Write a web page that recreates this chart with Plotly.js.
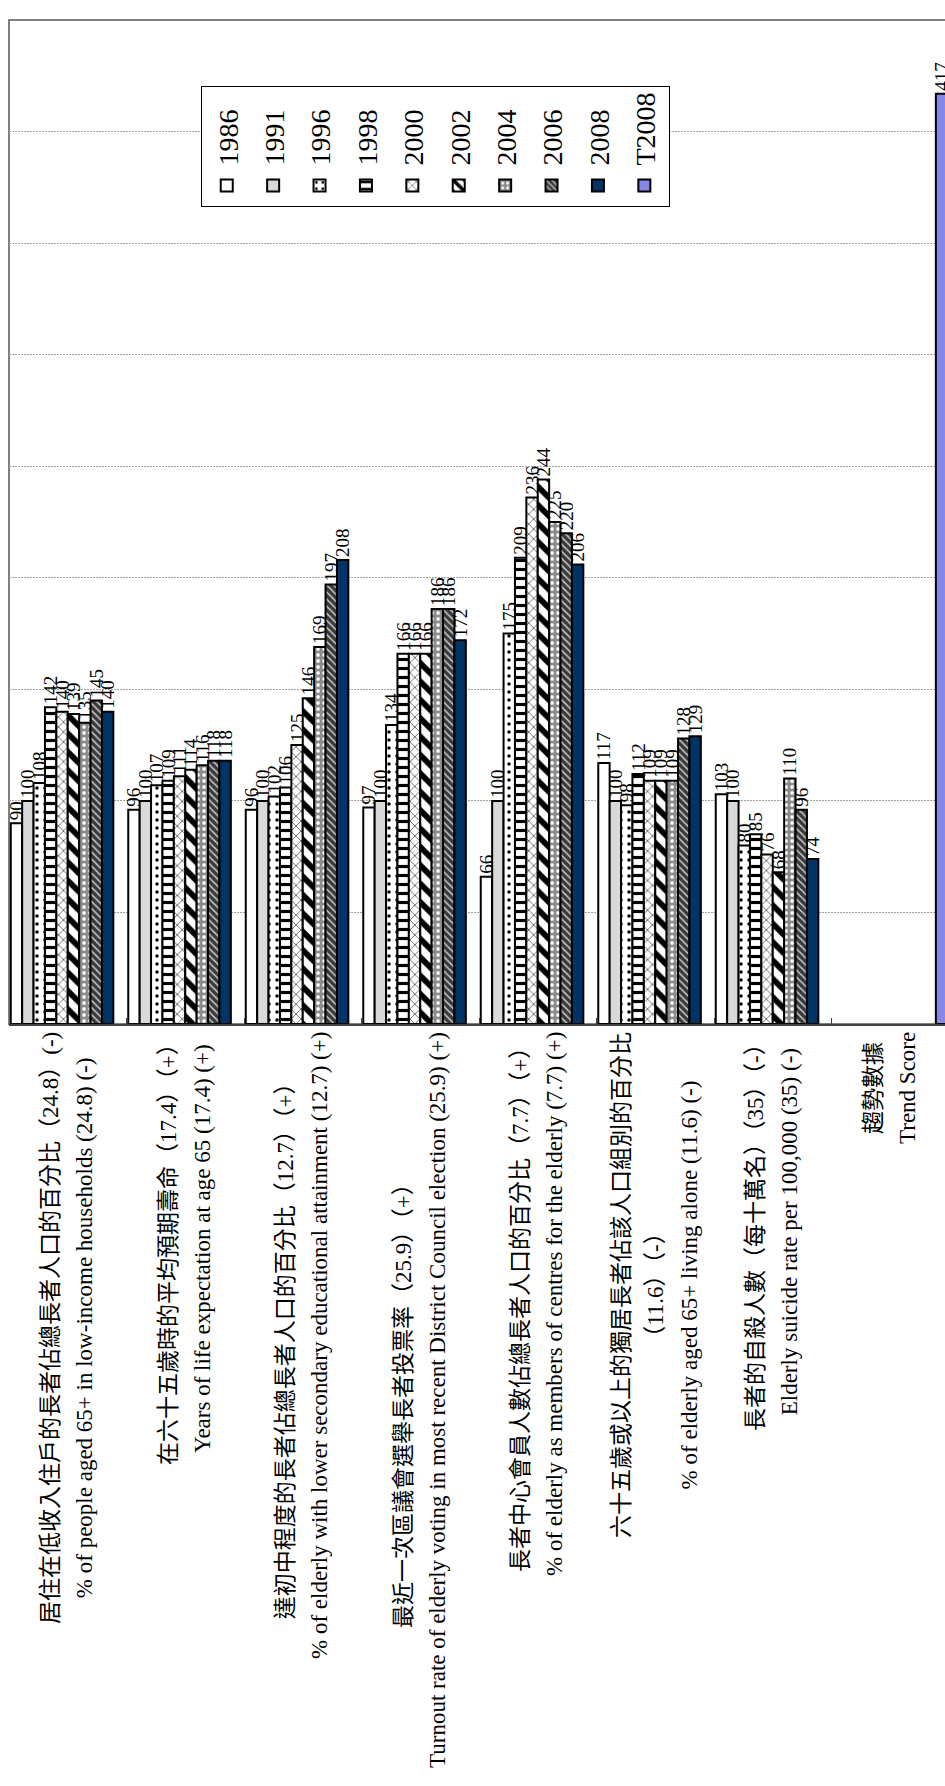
<!DOCTYPE html>
<html>
<head>
<meta charset="utf-8">
<script src="https://cdn.plot.ly/plotly-3.0.1.min.js"></script>
<style>
html, body { margin: 0; padding: 0; width: 945px; height: 1786px; overflow: hidden; background: #ffffff; }
#wrap { position: absolute; left: 0; top: 0; width: 1786px; height: 955px;
        transform-origin: 0 0; transform: translate(0, 1786px) rotate(-90deg); }
</style>
</head>
<body>
<div id="wrap"></div>
<script>
// ---- data ----
const labelsZh = [
  ['居住在低收入住戶的長者佔總長者人口的百分比（24.8）(-)'],
  ['在六十五歲時的平均預期壽命（17.4）（+）'],
  ['達初中程度的長者佔總長者人口的百分比（12.7）（+）'],
  ['最近一次區議會選舉長者投票率（25.9）（+）'],
  ['長者中心會員人數佔總長者人口的百分比（7.7）（+）'],
  ['六十五歲或以上的獨居長者佔該人口組別的百分比', '（11.6）（-）'],
  ['長者的自殺人數（每十萬名）（35）（-）'],
  ['趨勢數據']
];
const labelsEn = [
  '% of people aged 65+ in low-income households (24.8) (-)',
  'Years of life expectation at age 65 (17.4) (+)',
  '% of elderly with lower secondary educational attainment (12.7) (+)',
  'Turnout rate of elderly voting in most recent District Council election (25.9) (+)',
  '% of elderly as members of centres for the elderly (7.7) (+)',
  '% of elderly aged 65+ living alone (11.6) (-)',
  'Elderly suicide rate per 100,000 (35) (-)',
  'Trend Score'
];
const categories = labelsZh.map((z, i) => z.join(' ') + ' / ' + labelsEn[i]);

const years = ['1986', '1991', '1996', '1998', '2000', '2002', '2004', '2006', '2008', 'T2008'];
const v1986  = [90, 96, 96, 97, 66, 117, 103, null];
const v1991  = [100, 100, 100, 100, 100, 100, 100, null];
const v1996  = [108, 107, 102, 134, 175, 98, 80, null];
const v1998  = [142, 109, 106, 166, 209, 112, 85, null];
const v2000  = [140, 111, 125, 166, 236, 109, 76, null];
const v2002  = [139, 114, 146, 166, 244, 109, 68, null];
const v2004  = [135, 116, 169, 186, 225, 109, 110, null];
const v2006  = [145, 118, 197, 186, 220, 128, 96, null];
const v2008  = [140, 118, 208, 172, 206, 129, 74, null];
const vT2008 = [null, null, null, null, null, null, null, 417];
const seriesValues = [v1986, v1991, v1996, v1998, v2000, v2002, v2004, v2006, v2008, vT2008];

// ---- styles ----
const SERIF = '"Liberation Serif", "Times New Roman", "Noto Sans CJK TC", serif';
const markers = [
  { color: '#ffffff' },
  { color: '#d9d9d9' },
  { color: '#ffffff', pattern: { shape: '.', fgcolor: '#000000', bgcolor: '#ffffff', size: 8, solidity: 0.15 } },
  { color: '#ffffff', pattern: { shape: '|', fgcolor: '#000000', bgcolor: '#ffffff', size: 9, solidity: 0.35 } },
  { color: '#ffffff', pattern: { shape: 'x', fgcolor: '#000000', bgcolor: '#ffffff', size: 7, solidity: 0.15 } },
  { color: '#ffffff', pattern: { shape: '/', fgcolor: '#000000', bgcolor: '#ffffff', size: 13, solidity: 0.45 } },
  { color: '#909090', pattern: { shape: '.', fgcolor: '#ffffff', bgcolor: '#8c8c8c', size: 6, solidity: 0.3 } },
  { color: '#3a3a3a', pattern: { shape: '/', fgcolor: '#c8c8c8', bgcolor: '#3a3a3a', size: 5, solidity: 0.3 } },
  { color: '#003366' },
  { color: '#8787e8' }
];

const traces = years.map((yr, i) => ({
  type: 'bar',
  orientation: 'h',
  name: yr,
  legendgroup: yr,
  y: categories,
  x: seriesValues[i],
  marker: Object.assign({}, markers[i], { line: { color: '#000000', width: 2 } }),
  texttemplate: '%{x}',
  textposition: 'outside',
  textangle: 0,
  constraintext: 'none',
  cliponaxis: false,
  textfont: { family: SERIF, size: 19, color: '#000000' },
  hoverinfo: 'skip'
}));

const LABEL_SIZE = 23;
const wrapLine = s => '<span style="font-size:' + LABEL_SIZE + 'px">' + s + '</span>';
const annotations = categories.map((c, i) => ({
  xref: 'paper', x: 0, xanchor: 'right', xshift: -6,
  yref: 'y', y: c, yanchor: 'middle',
  text: labelsZh[i].concat([labelsEn[i]]).map(wrapLine).join('<br>'),
  showarrow: false, align: 'center',
  font: { family: SERIF, size: 26, color: '#000000' }
}));

const layout = {
  width: 1786, height: 955,
  margin: { l: 762, r: 20, t: 9, b: 6, pad: 0 },
  paper_bgcolor: '#ffffff', plot_bgcolor: '#ffffff',
  barmode: 'group', bargap: 0.03, bargroupgap: 0,
  showlegend: true,
  legend: {
    x: 0.8142, y: 0.7957, xanchor: 'left', yanchor: 'top',
    bgcolor: '#ffffff', bordercolor: '#000000', borderwidth: 1,
    font: { family: SERIF, size: 28, color: '#000000' },
    traceorder: 'grouped', tracegroupgap: 7
  },
  xaxis: {
    range: [0, 450], tick0: 0, dtick: 50,
    showgrid: true, gridcolor: '#a0a0a0', gridwidth: 1, griddash: '2px,1px',
    showticklabels: false, ticks: '', zeroline: false, showline: false, fixedrange: true
  },
  yaxis: {
    type: 'category', autorange: 'reversed',
    showticklabels: false, ticks: 'inside', tickson: 'boundaries', ticklen: 6,
    tickcolor: '#404040', tickwidth: 1,
    showline: true, linecolor: '#404040', linewidth: 2,
    showgrid: false, zeroline: false, fixedrange: true
  },
  shapes: [{
    type: 'rect', xref: 'paper', yref: 'paper', x0: 0, x1: 1, y0: 0, y1: 1,
    line: { color: '#808080', width: 2 }, layer: 'below'
  }],
  annotations: annotations
};

Plotly.newPlot('wrap', traces, layout, { staticPlot: true, displayModeBar: false });
</script>
</body>
</html>
